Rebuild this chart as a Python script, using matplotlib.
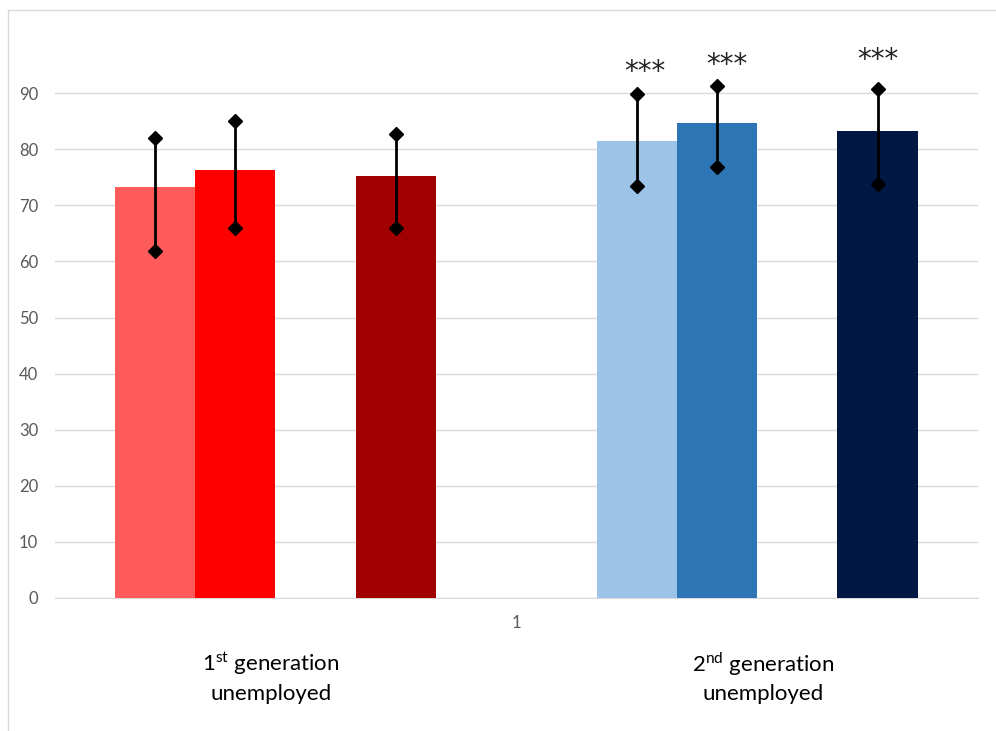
import matplotlib
matplotlib.use("Agg")
import matplotlib.pyplot as plt
from matplotlib.patches import Rectangle
import numpy as np

plt.rcParams['font.family'] = ['Lato', 'DejaVu Sans']
plt.rcParams['mathtext.fontset'] = 'custom'
plt.rcParams['mathtext.rm'] = 'Lato'

# ---- data (10 series in a single category; None = empty series) ----
category = "1"
values = [73.3, 76.3, None, 75.2, None, None, 81.5, 84.7, None, 83.3]
err_low = [61.9, 66.0, None, 66.0, None, None, 73.4, 76.8, None, 73.8]
err_high = [82.0, 85.0, None, 82.7, None, None, 89.9, 91.3, None, 90.8]
colors = ["#FF5B5B", "#FF0000", None, "#A00000", None, None,
          "#9DC3E6", "#2E75B6", None, "#011844"]
sig = ["", "", "", "", "", "", "***", "***", "", "***"]
sig_y = [None, None, None, None, None, None, 93.8, 95.0, None, 95.9]
yticks = [0, 10, 20, 30, 40, 50, 60, 70, 80, 90]
group_labels = ["1$^{\\mathrm{st}}$ generation\nunemployed",
                "2$^{\\mathrm{nd}}$ generation\nunemployed"]

# horizontal nudges of the significance labels (in bar widths)
sig_dx = [0, 0, 0, 0, 0, 0, 0.10, 0.12, 0, 0.0]

W, H = 996, 731
fig = plt.figure(figsize=(W / 100, H / 100), dpi=100)

# chart border
fig.patches.append(Rectangle((8 / W, -0.1), 1.2, 1 - 10 / H + 0.1,
                             transform=fig.transFigure, fill=False,
                             edgecolor="#D9D9D9", linewidth=1.0))

ax = fig.add_axes([55 / W, 1 - 598 / H, (978 - 55) / W, (598 - 37) / H])
ax.set_xlim(-1.245, 10.25)
ax.set_ylim(0, 100)

for i, v in enumerate(values):
    if v is None:
        continue
    ax.bar(i, v, width=1.0, color=colors[i], zorder=2, linewidth=0)
    ax.plot([i, i], [err_low[i], err_high[i]], color="black", lw=2, zorder=3)
    ax.plot([i, i], [err_low[i], err_high[i]], linestyle="none", marker="D",
            markersize=7, color="black", zorder=4)
    if sig[i]:
        ax.text(i + sig_dx[i], sig_y[i], sig[i], ha="center",
                va="center", fontsize=20, family="DejaVu Sans",
                color="#222222")

ax.set_yticks(yticks)
ax.set_yticklabels([str(t) for t in yticks], color="#595959", fontsize=12)
ax.tick_params(axis="y", length=0, pad=12)
ax.set_xticks([4.5])
ax.set_xticklabels([category], color="#595959", fontsize=12)
ax.tick_params(axis="x", length=0, pad=12)
ax.grid(axis="y", color="#D9D9D9", linewidth=1, zorder=0)
ax.set_axisbelow(True)
for s in ["top", "right", "left"]:
    ax.spines[s].set_visible(False)
ax.spines["bottom"].set_color("#D9D9D9")
ax.spines["bottom"].set_zorder(1)

# group labels under the axis
fig.text(271 / W, 1 - 677 / H, group_labels[0], ha="center", va="center",
         fontsize=16, color="black", linespacing=1.4)
fig.text(763 / W, 1 - 677 / H, group_labels[1], ha="center", va="center",
         fontsize=16, color="black", linespacing=1.4)

fig.savefig("out.png", dpi=100, facecolor="white")
